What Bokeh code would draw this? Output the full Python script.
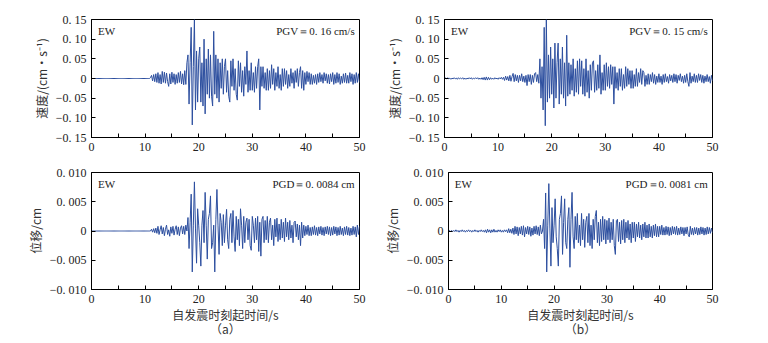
import numpy as np
from bokeh.plotting import figure
from bokeh.layouts import column, row
from bokeh.models import FixedTicker, CustomJSTickFormatter, Label, Range1d
from bokeh.embed import file_html
from bokeh.resources import INLINE

# sampling interval of the traces (s)
DT = 0.2

# EW velocity, panel (a), in 1e-3 cm/s, one row per second (5 samples)
vel_a = [
    0, 0, 0, 0, 0,  0, 0, 0, 0, 0,  0, 0, 0, 0, 0,  0, 0, 0, 0, 0,
    0, 0, 0, 0, 0,  0, 0, 0, 0, 0,  0, 0, 0, 0, 0,  0, 0, 0, 0, 0,
    0, 0, 0, 0, 0,  0, 0, 0, 0, 0,  0, 0, 0, 0, 0,
    2, 8, -6, 10, -8,
    12, -10, 15, -12, 10,
    -14, 18, -10, 16, -12,
    14, -8, -20, 12, -14,
    16, -10, 12, -15, 10,
    -12, 15, -10, 18, -14,
    12, -16, 20, -15, 40,
    60, -65, 40, 130, -118,
    30, 150, -80, 70, -60,
    50, 80, -60, 40, -70,
    100, -90, 50, -40, 75,
    -50, 60, -45, -70, 120,
    -40, 60, -50, 50, -60,
    40, -25, 50, -40, 30,
    50, -35, 20, -45, -60,
    45, -20, 50, -30, 25,
    -40, -55, 45, -20, 40,
    -35, 20, -45, 30, -15,
    70, -35, 20, -30, 40,
    -30, 15, -35, 30, -25,
    30, 50, -80, 30, -20,
    30, -25, 15, -30, 25,
    -30, 20, -25, 35, -15,
    25, -30, 15, -20, 30,
    -25, 10, -30, 25, -20,
    25, -15, 20, -25, 10,
    -20, 25, -12, 15, -25,
    20, -10, 25, -20, 15,
    30, -25, 20, -30, 15,
    -15, 18, -8, 15, -15,
    12, -15, 8, -12, 10,
    -15, 12, -10, 15, -8,
    10, -12, 15, -6, 12,
    -12, 10, -14, 12, -8,
    15, -15, 10, -12, 15,
    -10, 12, -15, 6, -12,
    12, -10, 14, -12, 8,
    -12, 15, -8, 12, -15,
    10, -12, 15, -10, 12,
    -10,
]

# EW velocity, panel (b), in 1e-3 cm/s
vel_b = [
    0, 1, -1, 2, -1,
    1, -2, 1, -1, 2,
    -1, 1, -2, 2, -1,
    1, -1, 2, -2, 1,
    -2, 1, -1, 2, -1,
    2, -2, 1, -1, 2,
    -1, 2, -2, 1, -2,
    2, -3, 3, -4, 4,
    -4, 3, -3, 2, -2,
    1, -2, 2, -1, 1,
    -2, 2, -1, 3, -2,
    3, -5, 6, -4, 5,
    -6, 8, -7, 5, 13,
    -8, 10, -6, 8, -10,
    8, -6, 12, -8, 6,
    -10, 8, -18, 10, -8,
    10, -15, 8, -10, 12,
    15, -8, 10, -12, 50,
    -50, 30, -80, 130, -120,
    150, -60, 60, -50, 80,
    -40, 50, -75, 90, -50,
    40, 90, -65, 50, -40,
    80, -50, 40, -70, 110,
    -45, 40, -40, 35, -30,
    50, -45, 25, -35, 45,
    -40, 50, -20, 45, -40,
    25, -45, 50, -35, 20,
    -50, 35, -30, 40, 45,
    -35, 20, -30, 35, -25,
    60, -40, 15, -30, 35,
    -30, 40, -20, 30, -25,
    35, -15, 30, -65, 30,
    -25, 15, -30, 25, -20,
    25, -30, 10, -25, 30,
    -20, 25, -15, 20, -25,
    20, -25, 10, -20, 25,
    -20, 15, -10, 25, -15,
    20, 15, -20, 8, -15,
    12, -15, 10, -8, 15,
    -12, 10, -15, 6, -10,
    12, -10, 6, -15, 10,
    -10, 12, -8, 5, -12,
    10, -6, 8, -10, 12,
    -8, 10, -12, 8, -5,
    12, -8, 6, -12, 8,
    -10, 12, -8, -20, 15,
    -12, 6, -8, 12, -10,
    8, -10, 12, -5, 10,
    -10, 8, -12, 6, -8,
    10, -8, 5, -12, 8,
    -6,
]

# EW displacement, panel (a), in 1e-4 cm
disp_a = [
    0, 0, 0, 0, 0,  0, 0, 0, 0, 0,  0, 0, 0, 0, 0,  0, 0, 0, 0, 0,
    0, 0, 0, 0, 0,  0, 0, 0, 0, 0,  0, 0, 0, 0, 0,  0, 0, 0, 0, 0,
    0, 0, 0, 0, 0,  0, 0, 0, 0, 0,  0, 0, 0, 0, 0,
    0, 3, -2, 4, -3,
    5, -4, 8, -6, 2,
    9, -5, 6, -8, 3,
    10, -6, 2, -9, 7,
    -4, 8, -7, 3, 9,
    -6, 7, -8, 5, 9,
    -5, 8, -6, 10, 0,
    23, -30, 15, 63, -70,
    10, 84, 5, -55, 38,
    10, -20, -60, 10, 35,
    -20, 66, 10, -48, 20,
    30, 60, -30, -20, 10,
    -70, 20, 71, 10, -40,
    30, 15, -25, 28, -20,
    10, 37, -15, -30, 20,
    30, -20, 35, -10, -35,
    25, -15, 20, -25, 38,
    10, -30, 25, -20, 15,
    22, -15, 20, -25, -33,
    25, 10, -20, 22, -15,
    25, -35, 15, -43, 20,
    25, -20, 18, -15, 25,
    -20, 15, 22, -15, 10,
    -25, 20, -10, 22, -18,
    12, -15, 20, -12, 15,
    -18, 22, -10, 15, -15,
    18, -12, 10, -20, 15,
    17, -10, 12, -15, 10,
    -25, 15, -12, 10, -8,
    8, -6, 10, -8, 6,
    -8, 7, -6, 9, -7,
    6, -8, 7, -5, 8,
    -7, 6, -8, 7, -5,
    8, -6, 7, -8, 6,
    -7, 8, -5, 7, -8,
    6, -7, 8, -6, 5,
    -8, 7, -6, 8, -7,
    6, -8, 5, -7, 8,
    -6, 7, -10, 10, -6,
    8,
]

# EW displacement, panel (b), in 1e-4 cm
disp_b = [
    0, 1, -1, 1, -1,
    1, -1, 2, -1, 1,
    -2, 1, -1, 2, -1,
    1, -2, 1, -1, 2,
    -1, 1, -2, 1, -1,
    2, -1, 1, -2, 1,
    -1, 2, -1, 1, -2,
    2, -3, 3, -2, 2,
    -3, 2, -2, 3, -2,
    1, -2, 2, -1, 2,
    -2, 1, -2, 2, -1,
    2, -3, 4, -3, 3,
    -4, 5, -6, 8, -5,
    7, -8, 6, -5, 8,
    -7, 9, -10, 6, -5,
    8, -6, 7, -9, 5,
    -7, 8, -5, 9, -6,
    7, -8, 10, -5, 0,
    20, -30, 65, -70, 10,
    81, 5, -60, 40, -20,
    10, 55, -10, -30, -60,
    20, 30, 60, -40, 15,
    55, -20, -30, 20, 40,
    -62, 20, 66, -10, -30,
    25, -15, 30, -20, 10,
    -25, 30, -15, 20, -28,
    15, 25, -20, 30, -25,
    10, -30, 20, -15, 25,
    35, -20, 15, -25, 20,
    -18, 25, -15, 20, -22,
    18, -15, 22, -20, 15,
    -15, 20, -25, -40, 18,
    20, -18, 15, -22, 18,
    -15, 20, -20, 15, -12,
    18, -15, 12, -20, 15,
    -12, 15, -18, 12, -10,
    15, -12, 10, -15, 12,
    -10, 15, -12, 10, -12,
    12, -10, 8, -12, 10,
    -8, 12, -10, 8, -10,
    8, -6, 10, -7, 6,
    -7, 8, -6, 7, -8,
    6, -7, 8, -5, 7,
    -6, 8, -7, 5, -6,
    7, -5, 6, -8, 6,
    -5, 7, -6, -10, 8,
    -6, 5, -7, 6, -5,
    6, -7, 5, -6, 7,
    -5, 6, -7, 5, -6,
    7, -5, 6, -4, 5,
    -3,
]

x_ticks = [0, 5, 10, 15, 20, 25, 30, 35, 40, 45, 50]
vel_ticks = [-0.15, -0.10, -0.05, 0.0, 0.05, 0.10, 0.15]
disp_ticks = [-0.010, -0.005, 0.0, 0.005, 0.010]

component = "EW"
pgv_texts = ["PGV\uff1d0. 16 cm/s", "PGV\uff1d0. 15 cm/s"]
pgd_texts = ["PGD\uff1d0. 0084 cm", "PGD\uff1d0. 0081 cm"]
vel_label = "速度/(cm\u2022s\u207b\u00b9)"
disp_label = "位移/cm"
time_label = "自发震时刻起时间/s"
sub_labels = ["（a）", "（b）"]

LINE = "#2d4f9f"
TXT = "#222222"
SERIF = "Liberation Serif"
CJK = "Noto Sans CJK SC"


def y_formatter(digits):
    return CustomJSTickFormatter(code=f"""
        if (Math.abs(tick) < 1e-9) return "0";
        const s = Math.abs(tick).toFixed({digits}).replace(".", ". ");
        return (tick < 0 ? "\\u2212" : "") + s;
    """)


def panel(values, scale, ylim, yticks, digits, ylabel, right_text,
          width, height, bl, br, bt, bb, bottom, sub):
    t = np.arange(len(values)) * DT
    y = np.array(values, dtype=float) * scale
    p = figure(width=width, height=height, output_backend="svg",
               toolbar_location=None,
               x_range=Range1d(0, 50), y_range=Range1d(-ylim, ylim),
               min_border_left=bl, min_border_right=br,
               min_border_top=bt, min_border_bottom=bb)
    p.background_fill_color = "white"
    p.border_fill_color = "white"
    p.outline_line_color = "black"
    p.outline_line_width = 1
    p.xgrid.visible = False
    p.ygrid.visible = False
    p.line(t, y, line_color=LINE, line_width=1.0)

    for ax in (p.xaxis[0], p.yaxis[0]):
        ax.major_tick_in = 4
        ax.major_tick_out = 0
        ax.minor_tick_in = 0
        ax.minor_tick_out = 0
        ax.axis_line_color = "black"
        ax.major_tick_line_color = "black"
        ax.major_label_text_font = SERIF
        ax.major_label_text_font_size = "12px"
        ax.major_label_text_color = TXT
        ax.major_label_standoff = 5
        ax.axis_label_text_font = CJK
        ax.axis_label_text_font_size = "12px"
        ax.axis_label_text_font_style = "normal"
        ax.axis_label_text_color = "#333333"

    p.xaxis.ticker = FixedTicker(ticks=x_ticks)
    p.xaxis.formatter = CustomJSTickFormatter(
        code="return (Math.round(tick) % 10 === 0) ? tick.toFixed(0) : '';")
    p.yaxis.ticker = FixedTicker(ticks=yticks)
    p.yaxis.formatter = y_formatter(digits)
    p.yaxis.axis_label = ylabel
    p.yaxis.axis_label_standoff = 3

    ytxt = ylim * 0.80
    p.add_layout(Label(x=1.2, y=ytxt, text=component, text_font=SERIF,
                       text_font_size="11px", text_color=TXT,
                       text_baseline="middle"))
    p.add_layout(Label(x=49.1, y=ytxt, text=right_text, text_font=SERIF,
                       text_font_size="11px", text_color=TXT,
                       text_baseline="middle", text_align="right"))
    if bottom:
        p.xaxis.axis_label = time_label + "\n" + sub
        p.xaxis.axis_label_standoff = 0
        p.xaxis.axis_label_text_line_height = 0.85
    return p


pa = panel(vel_a, 1e-3, 0.15, vel_ticks, 2, vel_label, pgv_texts[0],
           380, 160, 91, 21, 19, 23, False, None)
pb = panel(vel_b, 1e-3, 0.15, vel_ticks, 2, vel_label, pgv_texts[1],
           388, 160, 64, 56, 19, 23, False, None)
pc = panel(disp_a, 1e-4, 0.010, disp_ticks, 3, disp_label, pgd_texts[0],
           380, 183, 91, 21, 12, 54, True, sub_labels[0])
pd = panel(disp_b, 1e-4, 0.010, disp_ticks, 3, disp_label, pgd_texts[1],
           388, 183, 64, 56, 12, 54, True, sub_labels[1])

layout = column(row(pa, pb, spacing=0), row(pc, pd, spacing=0), spacing=0)

with open("out.html", "w") as f:
    f.write(file_html(layout, INLINE))
